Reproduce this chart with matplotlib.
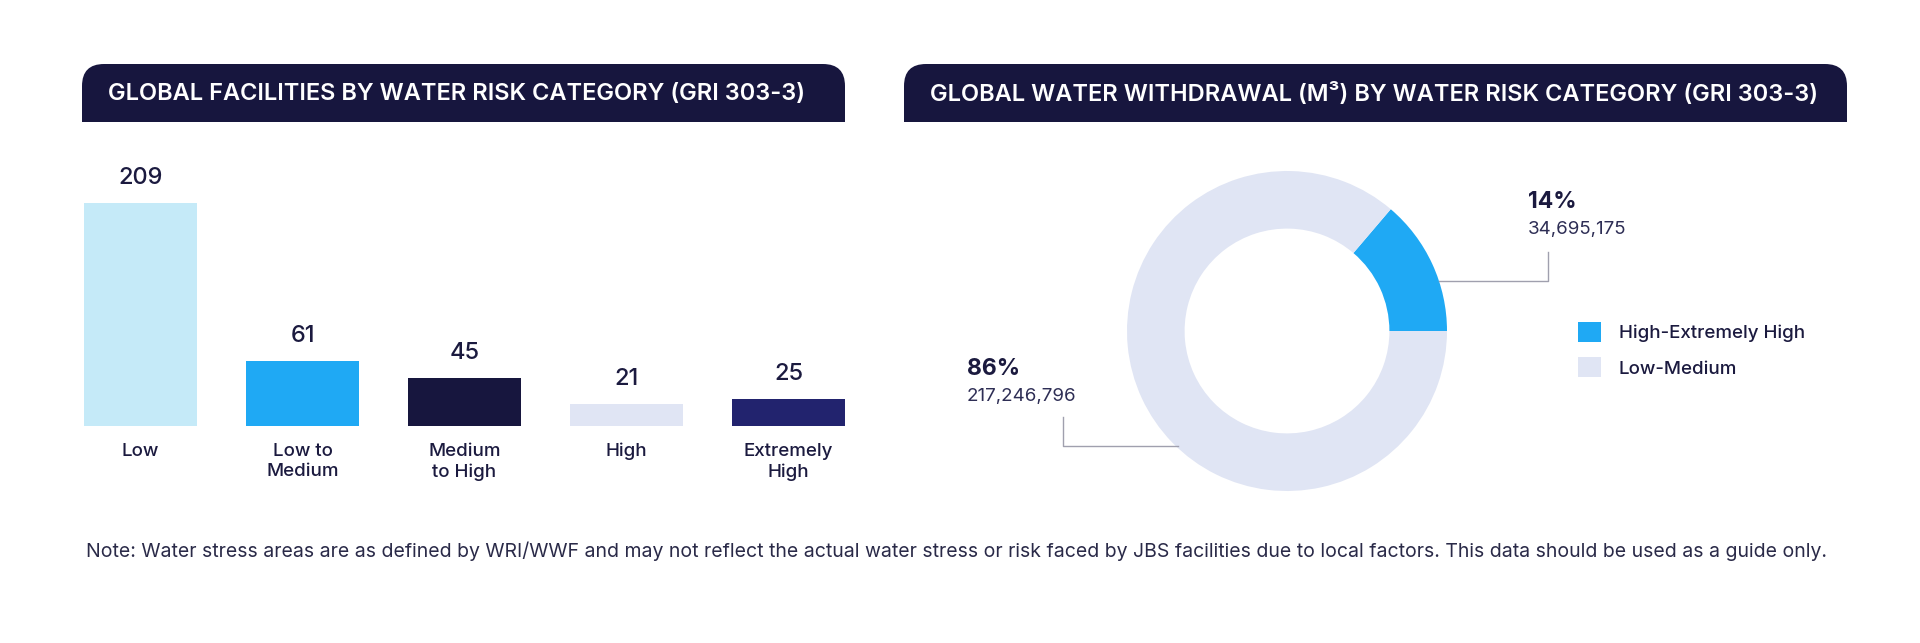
import matplotlib.pyplot as plt
from matplotlib.patches import FancyBboxPatch, Rectangle

# data
categories = ["Low", "Low to\nMedium", "Medium\nto High", "High", "Extremely\nHigh"]
facilities = [209, 61, 45, 21, 25]
bar_colors = ["#C5EAF8", "#1FA9F4", "#17163E", "#E0E5F4", "#22236E"]

risk_labels = ["High-Extremely High", "Low-Medium"]
withdrawal = [34695175, 217246796]
donut_colors = ["#1FA9F4", "#E0E5F4"]

titles = ["GLOBAL FACILITIES BY WATER RISK CATEGORY (GRI 303-3)",
          "GLOBAL WATER WITHDRAWAL (M³) BY WATER RISK CATEGORY (GRI 303-3)"]
note = ("Note: Water stress areas are as defined by WRI/WWF and may not reflect the actual water stress "
        "or risk faced by JBS facilities due to local factors. This data should be used as a guide only.")

NAVY = "#1B1A3F"
FONT = ["Inter", "DejaVu Sans"]
plt.rcParams['font.family'] = FONT

W, H = 1920, 643
fig = plt.figure(figsize=(W / 100, H / 100), dpi=100)
fig.patch.set_facecolor("white")

def fx(px):
    return px / W

def fy(px):
    return (H - px) / H

# overlay in pixel coords for headers
over = fig.add_axes([0, 0, 1, 1], zorder=0)
over.set_xlim(0, W)
over.set_ylim(H, 0)
over.axis("off")

headers = [(82, 845), (904, 1847)]
for (x0, x1), t in zip(headers, titles):
    over.add_patch(FancyBboxPatch((x0, 64), x1 - x0, 58,
                                  boxstyle="round,pad=0,rounding_size=22",
                                  fc="#17163E", ec="none"))
    over.add_patch(Rectangle((x0, 95), x1 - x0, 27, fc="#17163E", ec="none"))
    over.text(x0 + 26, 94, t, color="white", fontsize=17, fontweight="semibold",
              va="center", ha="left")

# bar chart
ax = fig.add_axes([fx(59.5), (H - 426) / H, fx(810), 256 / H])
x = range(len(categories))
bars = ax.bar(x, facilities, width=0.70, color=bar_colors)
ax.bar_label(bars, labels=[str(v) for v in facilities], padding=10,
             fontsize=17, fontweight="medium", color=NAVY)
ax.set_xlim(-0.5, 4.5)
ax.set_ylim(0, 240)
ax.set_xticks(list(x), categories, fontsize=13.5, fontweight="medium", color=NAVY,
              linespacing=1.25)
ax.tick_params(axis="x", length=0, pad=12)
ax.set_yticks([])
for s in ax.spines.values():
    s.set_visible(False)

# donut chart
R = 160
cx, cy = 1287, 331
dax = fig.add_axes([fx(cx - R), (H - cy - R) / H, fx(2 * R), 2 * R / H])
wedges, _ = dax.pie(withdrawal, colors=donut_colors, startangle=0, counterclock=True,
                    radius=1, wedgeprops=dict(width=0.36, linewidth=0))
dax.set_xlim(-1, 1)
dax.set_ylim(-1, 1)
dax.set_aspect("equal")
dax.axis("off")

total = sum(withdrawal)
pcts = [round(v / total * 100) for v in withdrawal]

line_kw = dict(color="#A0A0AE", lw=1.0, clip_on=False)
# high-extremely high label
dax.plot([0.95, 1.63, 1.63], [0.3125, 0.3125, 0.494], **line_kw)
dax.text(1.505, 0.806, f"{pcts[0]}%", fontsize=16.5, fontweight="bold",
         color=NAVY, va="center", ha="left")
dax.text(1.505, 0.6375, f"{withdrawal[0]:,}", fontsize=13.5, fontweight="normal",
         color="#2E2E55", va="center", ha="left")
# low-medium label
dax.plot([-0.68, -1.40, -1.40], [-0.719, -0.719, -0.535], **line_kw)
dax.text(-2.0, -0.2375, f"{pcts[1]}%", fontsize=16.5, fontweight="bold",
         color=NAVY, va="center", ha="left")
dax.text(-2.0, -0.4125, f"{withdrawal[1]:,}", fontsize=13.5, fontweight="normal",
         color="#2E2E55", va="center", ha="left")

leg = fig.legend(wedges, risk_labels, loc="center left",
                 bbox_to_anchor=(fx(1578), fy(350)), bbox_transform=fig.transFigure,
                 frameon=False, borderpad=0, borderaxespad=0,
                 handlelength=1.23, handleheight=1.23, handletextpad=0.95,
                 labelspacing=0.8, prop=dict(family=FONT, size=13.5, weight="medium"))
for t in leg.get_texts():
    t.set_color(NAVY)

fig.text(fx(86), fy(551), note, fontsize=14, color="#2A2A48", va="center", ha="left")

fig.savefig("out.png", dpi=100, facecolor="white")
